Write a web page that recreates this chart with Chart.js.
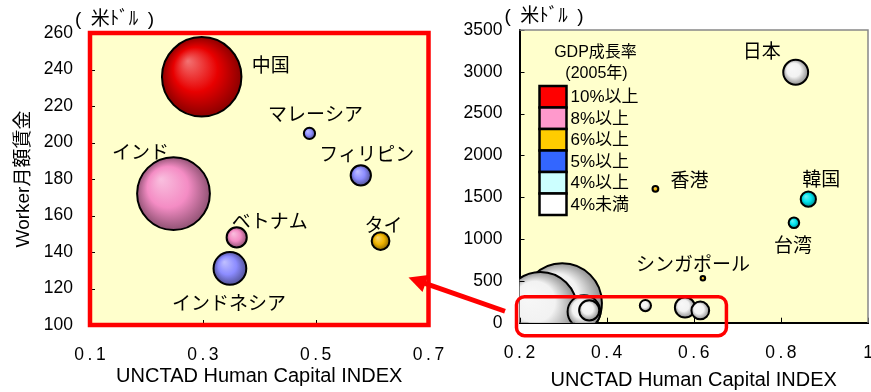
<!DOCTYPE html>
<html lang="ja">
<head>
<meta charset="utf-8">
<title>Worker月額賃金とUNCTAD Human Capital INDEX</title>
<script src="https://cdn.jsdelivr.net/npm/chart.js@4.4.1/dist/chart.umd.min.js"></script>
<style>
  html, body { margin: 0; padding: 0; background: #fff; }
  #wrap { position: relative; width: 871px; height: 392px; overflow: hidden; }
  #wrap canvas { position: absolute; top: 0; }
  #left { left: 0; }
  #right { left: 445px; }
  #over { left: 0; pointer-events: none; }
</style>
</head>
<body>
<div id="wrap">
  <canvas id="left" width="445" height="392"></canvas>
  <canvas id="right" width="426" height="392"></canvas>
  <canvas id="over" width="871" height="392"></canvas>
</div>
<script>
// 中国・インド・ASEAN (左の拡大図)
const asiaNames  = ['中国', 'インド', 'インドネシア', 'ベトナム', 'フィリピン', 'タイ', 'マレーシア'];
const asiaHci    = [0.298, 0.248, 0.348, 0.360, 0.580, 0.615, 0.489];
const asiaWage   = [236, 172, 131, 148, 182, 146, 205];
const asiaPop    = [1305, 1095, 222, 84, 85, 65, 26];      // 人口(百万人) = 円の面積
const asiaGrowth = [10.4, 9.2, 5.7, 8.4, 5.0, 6.2, 5.3];   // GDP成長率(%)

// 右の全体図に加わる国・地域
const otherNames  = ['日本', '韓国', '台湾', '香港', 'シンガポール'];
const otherHci    = [0.834, 0.863, 0.830, 0.512, 0.621];
const otherWage   = [2995, 1477, 1195, 1601, 531];
const otherPop    = [128, 48, 23, 7, 4.3];
const otherGrowth = [1.9, 4.0, 4.1, 7.3, 6.4];

// GDP成長率の区分
const growthLevels = [10, 8, 6, 5, 4, -Infinity];
const growthLabels = ['10%以上', '8%以上', '6%以上', '5%以上', '4%以上', '4%未満'];

// 目盛り
const leftXTicks  = [0.1, 0.3, 0.5, 0.7];
const leftYTicks  = [100, 120, 140, 160, 180, 200, 220, 240, 260];
const rightXTicks = [0.2, 0.4, 0.6, 0.8, 1];
const rightYTicks = [0, 500, 1000, 1500, 2000, 2500, 3000, 3500];

// ---- styles ----
const legendColors = ['#ff0000', '#ff99cc', '#ffcc00', '#3366ff', '#ccffff', '#ffffff'];
const bubbleColors = ['#e80000', '#f48cc4', '#f0b400', '#8c8cff', '#00e4ee', '#f2f2f2'];
const asiaLabelPos  = [[69, -10], [-33, -40], [-1, 36], [33, -15], [6, -20], [3, -14], [6, -18]];
const otherLabelPos = [[-34, -19], [13, -18], [-1, 24], [34, -7], [-10, -13]];

const JP = "'Liberation Sans', 'Noto Sans CJK JP', sans-serif";
const tickFont   = { family: "'Liberation Sans', sans-serif", size: 17.5 };
const xTitleFont = { family: JP, size: 20 };
const yTitleFont = { family: JP, size: 19 };

function growthIndex(g) {
    return growthLevels.findIndex(l => g >= l);
}

function bubbleR(pop) {
    return 1.1 * Math.sqrt(pop);
}

function shade(hex, amt) {
    const n = parseInt(hex.slice(1), 16);
    const t = amt < 0 ? 0 : 255, p = Math.abs(amt);
    const c = [n >> 16, (n >> 8) & 255, n & 255].map(v => Math.round(v + (t - v) * p));
    return 'rgb(' + c.join(',') + ')';
}

// 立体的な球 (Excel風)
function sphere(ctx, base) {
    if (ctx.type !== 'data' || !ctx.raw) return base;
    const chart = ctx.chart;
    const cx = chart.scales.x.getPixelForValue(ctx.raw.x);
    const cy = chart.scales.y.getPixelForValue(ctx.raw.y);
    const r = ctx.raw.r;
    if (!isFinite(cx) || !isFinite(cy) || !chart.chartArea) return base;
    const g = chart.ctx.createRadialGradient(cx - r * 0.35, cy - r * 0.4, 0, cx, cy, r * 1.02);
    g.addColorStop(0, shade(base, 0.45));
    g.addColorStop(0.55, base);
    g.addColorStop(1, shade(base, -0.42));
    return g;
}

function spaced(v) {
    return String(v).split('').join('\u2009');
}

function points(xs, ys, pops) {
    return xs.map((x, i) => ({ x: x, y: ys[i], r: bubbleR(pops[i]) }));
}

function scales(xMin, xMax, yMin, yMax, xTicks, yTicks, yWidth, xHeight, yTitle, xTitlePad) {
    return {
        x: {
            type: 'linear', min: xMin, max: xMax,
            afterBuildTicks: s => { s.ticks = xTicks.map(v => ({ value: v })); },
            afterFit: s => { s.height = xHeight; s.paddingLeft = 0; s.paddingRight = 0; },
            grid: { display: false, drawTicks: false },
            border: { display: true, color: '#000', width: 2 },
            ticks: { font: tickFont, color: '#000', padding: 20, maxRotation: 0, autoSkip: false, callback: spaced },
            title: { display: true, text: 'UNCTAD Human Capital INDEX', font: xTitleFont, color: '#000',
                     padding: { top: 0, bottom: xTitlePad } }
        },
        y: {
            type: 'linear', min: yMin, max: yMax,
            afterBuildTicks: s => { s.ticks = yTicks.map(v => ({ value: v })); },
            afterFit: s => { s.width = yWidth; s.paddingTop = 0; s.paddingBottom = 0; },
            grid: { display: false, drawTicks: false },
            border: { display: true, color: '#000', width: 2 },
            ticks: { font: tickFont, color: '#000', padding: 17, autoSkip: false, callback: v => String(v) },
            title: { display: !!yTitle, text: yTitle, font: yTitleFont, color: '#000', padding: { top: 12, bottom: 0 } }
        }
    };
}

// plot background, inside ticks, unit text
const plotDeco = {
    id: 'plotDeco',
    beforeDraw(chart) {
        const a = chart.chartArea, c = chart.ctx;
        c.save();
        c.fillStyle = '#ffffcc';
        c.fillRect(a.left, a.top, a.right - a.left, a.bottom - a.top);
        c.restore();
    },
    afterDraw(chart) {
        const a = chart.chartArea, c = chart.ctx;
        c.save();
        c.strokeStyle = '#000';
        c.lineWidth = 1;
        chart.scales.x.ticks.forEach(t => {
            const px = Math.round(chart.scales.x.getPixelForValue(t.value)) + 0.5;
            c.beginPath(); c.moveTo(px, a.bottom); c.lineTo(px, a.bottom - 5); c.stroke();
        });
        chart.scales.y.ticks.forEach(t => {
            const py = Math.round(chart.scales.y.getPixelForValue(t.value)) + 0.5;
            c.beginPath(); c.moveTo(a.left, py); c.lineTo(a.left + 5, py); c.stroke();
        });
        c.fillStyle = '#000';
        c.font = '19px ' + JP;
        c.textBaseline = 'middle';
        c.textAlign = 'left';
        c.fillText('(\u2002米ﾄﾞﾙ\u2002)', a.left - 15, a.top - 13);
        c.restore();
    }
};

// country names beside bubbles
const bubbleNames = {
    id: 'bubbleNames',
    afterDatasetsDraw(chart) {
        const c = chart.ctx;
        c.save();
        c.fillStyle = '#000';
        c.font = '19px ' + JP;
        c.textAlign = 'center';
        c.textBaseline = 'middle';
        chart.data.datasets.forEach((ds, di) => {
            if (!ds.names) return;
            chart.getDatasetMeta(di).data.forEach((el, i) => {
                const off = ds.namePos[i];
                c.fillText(ds.names[i], el.x + off[0], el.y + off[1]);
            });
        });
        c.restore();
    }
};

const leftChart = new Chart(document.getElementById('left'), {
    type: 'bubble',
    data: {
        datasets: [{
            data: points(asiaHci, asiaWage, asiaPop),
            names: asiaNames,
            namePos: asiaLabelPos,
            backgroundColor: ctx => sphere(ctx, bubbleColors[growthIndex(asiaGrowth[ctx.dataIndex])]),
            borderColor: '#000',
            borderWidth: 2
        }]
    },
    options: {
        responsive: false,
        animation: false,
        events: [],
        layout: { padding: { top: 33, right: 16.5, left: 0, bottom: 0 }, autoPadding: false },
        plugins: { legend: { display: false }, tooltip: { enabled: false } },
        scales: scales(0.1, 0.7, 100, 260, leftXTicks, leftYTicks, 90, 67, 'Worker月額賃金', 3.5)
    },
    plugins: [plotDeco, bubbleNames, {
        id: 'redFrame',
        afterDraw(chart) {
            const a = chart.chartArea, c = chart.ctx;
            c.save();
            c.strokeStyle = '#ff0000';
            c.lineWidth = 4.5;
            c.strokeRect(a.left, a.top, a.right - a.left, a.bottom - a.top);
            c.restore();
        }
    }]
});

const rightChart = new Chart(document.getElementById('right'), {
    type: 'bubble',
    data: {
        datasets: [{
            data: points(asiaHci, asiaWage, asiaPop),
            backgroundColor: ctx => sphere(ctx, bubbleColors[5]),
            borderColor: '#000',
            borderWidth: 2
        }, {
            data: points(otherHci, otherWage, otherPop),
            names: otherNames,
            namePos: otherLabelPos,
            backgroundColor: ctx => sphere(ctx, bubbleColors[growthIndex(otherGrowth[ctx.dataIndex])]),
            borderColor: '#000',
            borderWidth: 2
        }]
    },
    options: {
        responsive: false,
        animation: false,
        events: [],
        layout: { padding: { top: 30, right: 3, left: 0, bottom: 0 }, autoPadding: false },
        plugins: { legend: { display: false }, tooltip: { enabled: false } },
        scales: scales(0.2, 1, 0, 3500, rightXTicks, rightYTicks, 74.5, 69.3, '', 0)
    },
    plugins: [plotDeco, bubbleNames, {
        id: 'growthLegend',
        afterDraw(chart) {
            const a = chart.chartArea, c = chart.ctx;
            c.save();
            // gray frame top / right
            c.strokeStyle = '#888';
            c.lineWidth = 1.5;
            c.beginPath();
            c.moveTo(a.left, a.top); c.lineTo(a.right, a.top); c.lineTo(a.right, a.bottom);
            c.stroke();

            c.fillStyle = '#000';
            c.textAlign = 'center';
            c.textBaseline = 'middle';
            c.font = '16px ' + JP;
            c.fillText('GDP成長率', a.left + 76, a.top + 23);
            c.fillText('(2005年)', a.left + 77, a.top + 44);
            const bx = a.left + 20, by = a.top + 56, bw = 27, bh = 21.5;
            c.textAlign = 'left';
            c.font = '17px ' + JP;
            growthLabels.forEach((lab, i) => {
                c.fillStyle = legendColors[i];
                c.fillRect(bx, by + i * bh, bw, bh);
                c.strokeStyle = '#000';
                c.lineWidth = 2.5;
                c.strokeRect(bx, by + i * bh, bw, bh);
                c.fillStyle = '#000';
                c.fillText(lab, bx + bw + 4, by + i * bh + bh / 2 + 1);
            });
            c.restore();
        }
    }]
});

// 拡大範囲の枠と矢印
function drawCallout() {
    const g = document.getElementById('over').getContext('2d');
    const off = rightChart.canvas.offsetLeft;
    const ra = rightChart.chartArea;
    const x0 = off + ra.left - 3;
    const x1 = off + rightChart.scales.x.getPixelForValue(0.675);
    const y0 = rightChart.scales.y.getPixelForValue(310);
    const y1 = ra.bottom + 13;
    g.strokeStyle = '#ff0000';
    g.fillStyle = '#ff0000';
    g.lineWidth = 3.5;
    g.beginPath();
    g.roundRect(x0, y0, x1 - x0, y1 - y0, 8);
    g.stroke();

    const la = leftChart.chartArea;
    const tx = la.right - 20, ty = leftChart.scales.y.getPixelForValue(126);
    const fx = x0 - 11.5, fy = (y0 + y1) / 2 - 5;
    const len = Math.hypot(tx - fx, ty - fy);
    const ux = (tx - fx) / len, uy = (ty - fy) / len;
    const hl = 18, hw = 9;
    const bxp = tx - ux * hl, byp = ty - uy * hl;
    g.lineWidth = 5;
    g.beginPath(); g.moveTo(fx, fy); g.lineTo(bxp + ux * 2, byp + uy * 2); g.stroke();
    g.beginPath();
    g.moveTo(tx, ty);
    g.lineTo(bxp - uy * hw, byp + ux * hw);
    g.lineTo(bxp + uy * hw, byp - ux * hw);
    g.closePath();
    g.fill();
}
drawCallout();
</script>
</body>
</html>
